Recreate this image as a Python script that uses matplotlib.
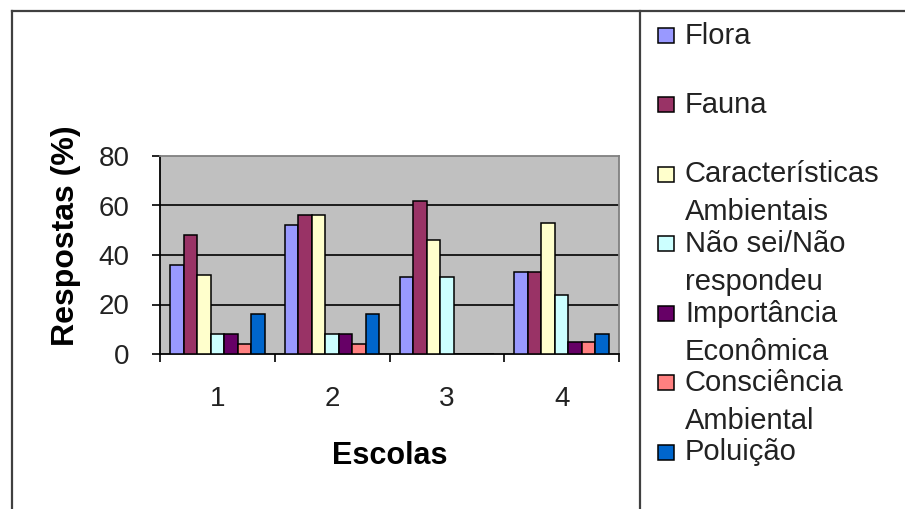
import matplotlib
matplotlib.use("Agg")
import matplotlib.pyplot as plt
from matplotlib.patches import Rectangle
from matplotlib.lines import Line2D
import numpy as np

plt.rcParams['font.family'] = ['Liberation Sans', 'DejaVu Sans']

# Data: percentage of responses per school
schools = ['1', '2', '3', '4']
series_names = [
    'Flora',
    'Fauna',
    'Características\nAmbientais',
    'Não sei/Não\nrespondeu',
    'Importância\nEconômica',
    'Consciência\nAmbiental',
    'Poluição',
]
flora = [36, 52, 31, 33.3]
fauna = [48, 56, 62, 33.3]
caracteristicas = [32, 56, 46, 53]
nao_sei = [8, 8, 31, 24]
importancia = [8, 8, 0, 5]
consciencia = [4, 4, 0, 5]
poluicao = [16, 16, 0, 8]
all_series = [flora, fauna, caracteristicas, nao_sei, importancia, consciencia, poluicao]
colors = ['#9999FF', '#993366', '#FFFFCC', '#CCFFFF', '#660066', '#FF8080', '#0066CC']
y_ticks = [0, 20, 40, 60, 80]

W, H = 905, 509
fig = plt.figure(figsize=(W / 100, H / 100), dpi=100)


def fx(px):
    return px / W


def fy(py):
    return 1 - py / H


ax = fig.add_axes([fx(160), fy(354), (619 - 160) / W, (354 - 156) / H])
ax.set_facecolor('#C0C0C0')

x = np.arange(len(schools))
n = len(all_series)
bw = 0.1177
for i, (vals, col) in enumerate(zip(all_series, colors)):
    ax.bar(x + (i - (n - 1) / 2) * bw, vals, width=bw, color=col,
           edgecolor='black', linewidth=1.1, zorder=3)

for v in y_ticks[1:-1]:
    ax.axhline(v, color='black', lw=1.2, zorder=1)

ax.set_xlim(-0.5, len(schools) - 0.5)
ax.set_ylim(0, 80)

ax.set_yticks(y_ticks)
ax.set_yticklabels([str(v) for v in y_ticks])
ax.tick_params(axis='y', direction='out', length=6, width=1.2, pad=16,
               labelsize=20, labelcolor='#222222')

ax.set_xticks(np.arange(len(schools) + 1) - 0.5)
ax.set_xticklabels([''] * (len(schools) + 1))
ax.set_xticks(x, minor=True)
ax.set_xticklabels(schools, minor=True)
ax.tick_params(axis='x', which='major', direction='out', length=6, width=1.2)
ax.tick_params(axis='x', which='minor', length=0, pad=23, labelsize=20,
               labelcolor='#222222')

for side in ['left', 'bottom']:
    ax.spines[side].set_color('black')
    ax.spines[side].set_linewidth(1.3)
for side in ['top', 'right']:
    ax.spines[side].set_color('#808080')
    ax.spines[side].set_linewidth(1.3)

fig.text(fx(389.5), fy(456), 'Escolas', ha='center', va='center',
         fontsize=22, fontweight='bold')
fig.text(fx(66), fy(236), 'Respostas (%)', ha='center', va='center',
         rotation=90, fontsize=23, fontweight='bold')

# Outer chart frame and legend box border
frame_kw = dict(color='#404040', lw=1.6, transform=fig.transFigure)
fig.add_artist(Line2D([fx(12), fx(12)], [fy(11), 0], **frame_kw))
fig.add_artist(Line2D([fx(12), 1], [fy(11), fy(11)], **frame_kw))
fig.add_artist(Line2D([fx(640), fx(640)], [fy(11), 0], **frame_kw))

# Legend entries
for i, (name, col) in enumerate(zip(series_names, colors)):
    base = 43.5 + 69.5 * i
    fig.add_artist(Rectangle((fx(658), fy(base - 1)), 16 / W, 15 / H,
                             facecolor=col, edgecolor='black', lw=1.1,
                             transform=fig.transFigure))
    for j, line in enumerate(name.split('\n')):
        fig.text(fx(685), fy(base + 38 * j), line, ha='left', va='baseline',
                 fontsize=21, color='#222222')

fig.savefig('out.png', dpi=100)
